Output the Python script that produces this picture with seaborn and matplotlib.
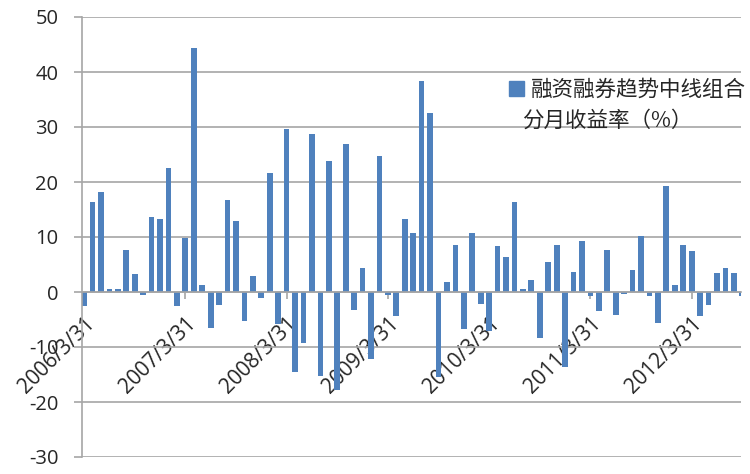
import pandas as pd
import seaborn as sns
import matplotlib.pyplot as plt
from matplotlib.patches import Patch

# monthly returns (%), month-end from 2006/3/31 to 2012/9/30
returns = [-2.5, 16.3, 18.2, 0.5, 0.5, 7.7, 3.3, -0.5, 13.6, 13.3, 22.6, -2.6,
           9.8, 44.3, 1.2, -6.5, -2.3, 16.7, 12.9, -5.3, 3.0, -1.0, 21.6, -5.8,
           29.7, -14.6, -9.3, 28.8, -15.3, 23.8, -17.8, 26.9, -3.2, 4.3, -12.2, 24.8,
           -0.6, -4.4, 13.3, 10.8, 38.4, 32.5, -15.4, 1.8, 8.6, -6.8, 10.8, -2.1,
           -7.1, 8.3, 6.4, 16.4, 0.5, 2.1, -8.3, 5.5, 8.6, -13.6, 3.6, 9.3,
           -0.8, -3.5, 7.7, -4.1, -0.4, 4.0, 10.2, -0.8, -5.6, 19.2, 1.2, 8.6,
           7.4, -4.4, -2.3, 3.4, 4.3, 3.4, -0.7]
dates = pd.date_range("2006-03-31", periods=len(returns), freq="ME")
months = [f"{d.year}/{d.month}/{d.day}" for d in dates]
tick_labels = ["2006/3/31", "2007/3/31", "2008/3/31", "2009/3/31",
               "2010/3/31", "2011/3/31", "2012/3/31"]
legend_line1 = "融资融券趋势中线组合"
legend_line2 = "分月收益率（%）"

df = pd.DataFrame({"month": months, "ret": returns})

sns.set_style("white")
plt.rcParams['font.family'] = ['Open Sans', 'Noto Sans CJK SC', 'DejaVu Sans']
plt.rcParams['axes.unicode_minus'] = False

blue = "#4F81BD"
grey = "#A6A6A6"

fig = plt.figure(figsize=(7.5, 4.74), dpi=100)
ax = fig.add_axes([82 / 750, 17 / 474, (741 - 82) / 750, (457 - 17) / 474])

sns.barplot(data=df, x="month", y="ret", color=blue, saturation=1,
            width=0.68, linewidth=0, ax=ax)

ax.set_ylim(-30, 50)
ax.set_yticks(range(-30, 51, 10))
ax.set_xlim(-0.25, 77.85)
ax.yaxis.grid(True, color=grey, lw=1.2)
ax.set_axisbelow(True)
ax.set_xlabel("")
ax.set_ylabel("")

# category axis crosses at zero like the Excel original
ax.spines['bottom'].set_position(('data', 0))
ax.spines['top'].set_visible(False)
ax.spines['right'].set_visible(False)
for s in ['left', 'bottom']:
    ax.spines[s].set_color(grey)
    ax.spines[s].set_linewidth(1.2)

ax.tick_params(axis='x', bottom=True, length=5, width=1.2, color=grey,
               direction='out', pad=10, labelsize=15, labelrotation=45)
ax.tick_params(axis='y', left=True, length=6, width=1.2, color=grey,
               direction='out', pad=11, labelsize=14.5)

ax.set_xticks([months.index(t) for t in tick_labels])
ax.set_xticklabels(tick_labels)
for lab in ax.get_xticklabels():
    lab.set_rotation(45)
    lab.set_horizontalalignment('right')
    lab.set_rotation_mode('anchor')

leg = ax.legend(handles=[Patch(color=blue)], labels=[legend_line1],
                loc='center left', bbox_to_anchor=(498 / 750, 1 - 90 / 474),
                bbox_transform=fig.transFigure, frameon=False, borderpad=0,
                handlelength=0.7, handleheight=0.7, handletextpad=0.35,
                prop={'family': ['Noto Sans CJK SC', 'DejaVu Sans'], 'size': 15.5})
fig.text(522 / 750, 1 - 121 / 474, legend_line2, va='center', ha='left',
         fontsize=15.5, family=['Noto Sans CJK SC', 'DejaVu Sans'])

fig.savefig("out.png", dpi=100)
